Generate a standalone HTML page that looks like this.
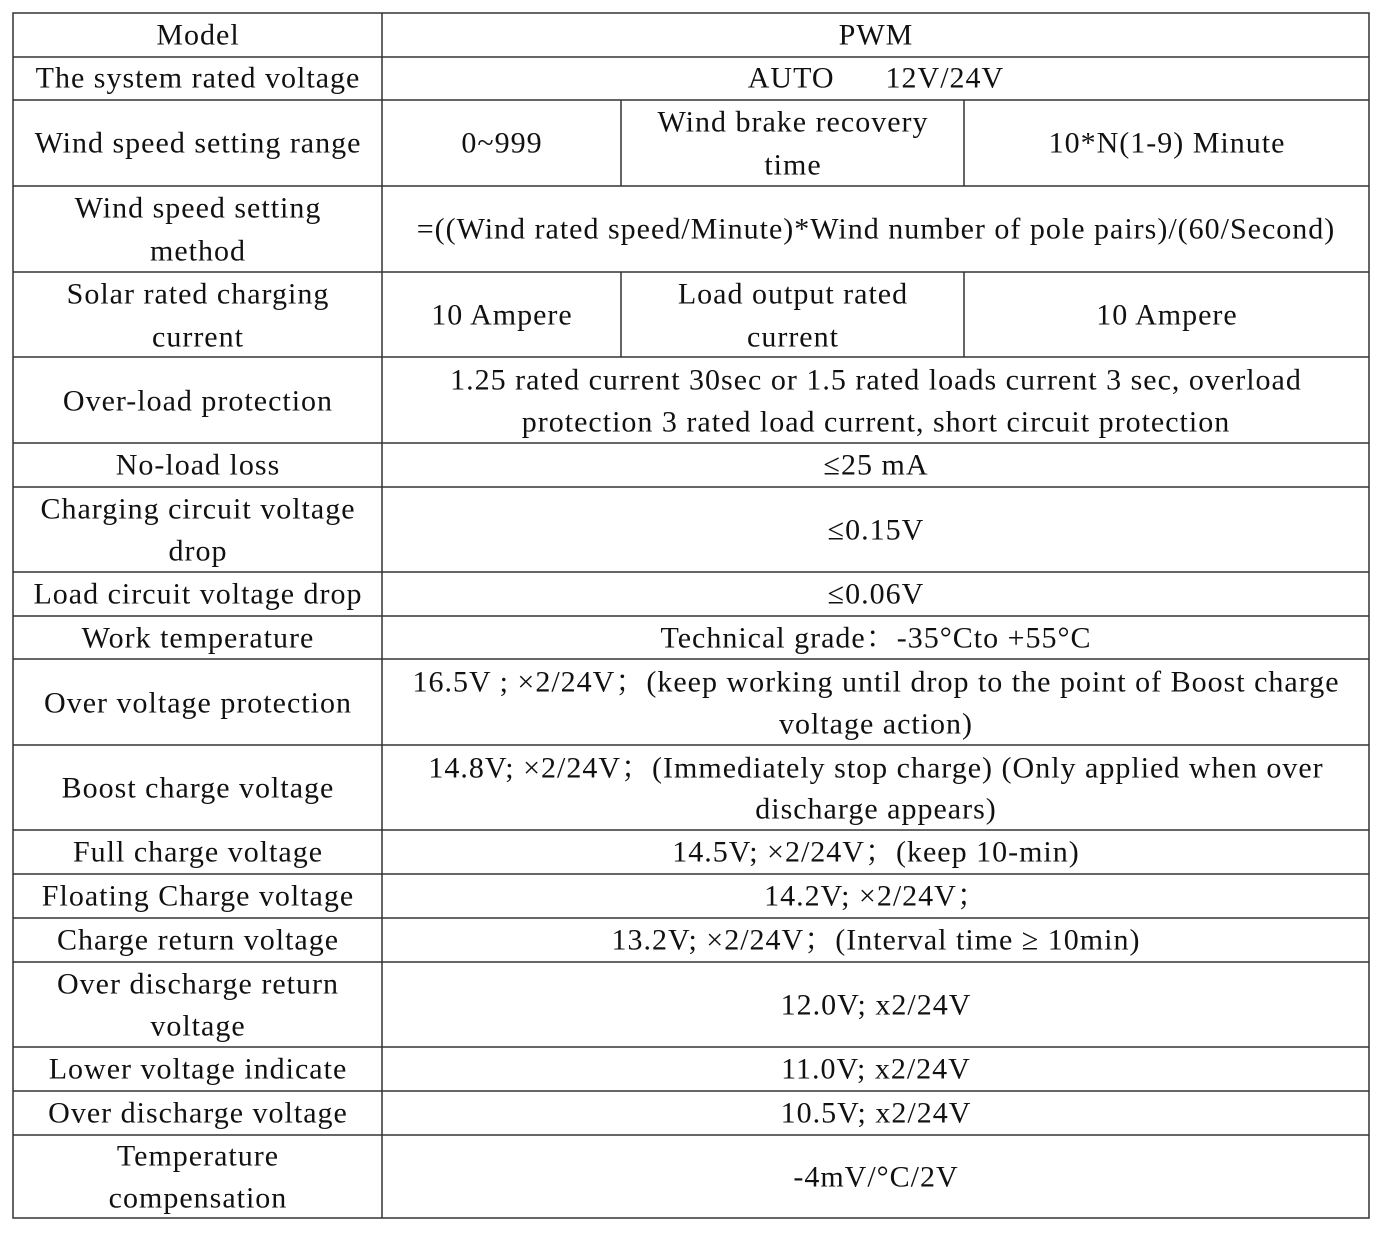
<!DOCTYPE html>
<html><head><meta charset="utf-8"><style>
html,body{margin:0;padding:0;background:#fff;}
svg text{font-family:"Liberation Serif","Noto Serif CJK SC",serif;font-size:30px;letter-spacing:1px;fill:#111;}
</style></head><body>
<svg width="1376" height="1228" xmlns="http://www.w3.org/2000/svg" text-anchor="middle" dominant-baseline="central">
<g stroke="#333" stroke-width="1.5" fill="none">
<rect x="13" y="13" width="1356" height="1205"/>
<line x1="382" y1="13" x2="382" y2="1218"/>
<line x1="621" y1="100" x2="621" y2="186"/><line x1="964" y1="100" x2="964" y2="186"/>
<line x1="621" y1="272" x2="621" y2="357"/><line x1="964" y1="272" x2="964" y2="357"/>
<line x1="13" y1="57" x2="1369" y2="57"/>
<line x1="13" y1="100" x2="1369" y2="100"/>
<line x1="13" y1="186" x2="1369" y2="186"/>
<line x1="13" y1="272" x2="1369" y2="272"/>
<line x1="13" y1="357" x2="1369" y2="357"/>
<line x1="13" y1="443" x2="1369" y2="443"/>
<line x1="13" y1="487" x2="1369" y2="487"/>
<line x1="13" y1="572" x2="1369" y2="572"/>
<line x1="13" y1="616" x2="1369" y2="616"/>
<line x1="13" y1="659" x2="1369" y2="659"/>
<line x1="13" y1="745" x2="1369" y2="745"/>
<line x1="13" y1="830" x2="1369" y2="830"/>
<line x1="13" y1="874" x2="1369" y2="874"/>
<line x1="13" y1="918" x2="1369" y2="918"/>
<line x1="13" y1="962" x2="1369" y2="962"/>
<line x1="13" y1="1047" x2="1369" y2="1047"/>
<line x1="13" y1="1091" x2="1369" y2="1091"/>
<line x1="13" y1="1135" x2="1369" y2="1135"/>
</g>
<text x="198" y="35">Model</text><text x="876" y="35">PWM</text>
<text x="198" y="78">The system rated voltage</text><text x="876" y="78" xml:space="preserve">AUTO      12V/24V</text>
<text x="198" y="143">Wind speed setting range</text><text x="502" y="143">0~999</text>
<text x="793" y="122">Wind brake recovery</text><text x="793" y="165">time</text>
<text x="1167" y="143">10*N(1-9) Minute</text>
<text x="198" y="208">Wind speed setting</text><text x="198" y="251">method</text>
<text x="876" y="229">=((Wind rated speed/Minute)*Wind number of pole pairs)/(60/Second)</text>
<text x="198" y="294">Solar rated charging</text><text x="198" y="337">current</text>
<text x="502" y="315">10 Ampere</text>
<text x="793" y="294">Load output rated</text><text x="793" y="337">current</text>
<text x="1167" y="315">10 Ampere</text>
<text x="198" y="401">Over-load protection</text>
<text x="876" y="380">1.25 rated current 30sec or 1.5 rated loads current 3 sec, overload</text>
<text x="876" y="422">protection 3 rated load current, short circuit protection</text>
<text x="198" y="465">No-load loss</text><text x="876" y="465">≤25 mA</text>
<text x="198" y="509">Charging circuit voltage</text><text x="198" y="551">drop</text>
<text x="876" y="530">≤0.15V</text>
<text x="198" y="594">Load circuit voltage drop</text><text x="876" y="594">≤0.06V</text>
<text x="198" y="638">Work temperature</text><text x="876" y="638">Technical grade：-35°Cto +55°C</text>
<text x="198" y="703">Over voltage protection</text>
<text x="876" y="682">16.5V ; ×2/24V；(keep working until drop to the point of Boost charge</text>
<text x="876" y="724">voltage action)</text>
<text x="198" y="788">Boost charge voltage</text>
<text x="876" y="768">14.8V; ×2/24V；(Immediately stop charge) (Only applied when over</text>
<text x="876" y="809">discharge appears)</text>
<text x="198" y="852">Full charge voltage</text><text x="876" y="852">14.5V; ×2/24V；(keep 10-min)</text>
<text x="198" y="896">Floating Charge voltage</text><text x="876" y="896">14.2V; ×2/24V；</text>
<text x="198" y="940">Charge return voltage</text><text x="876" y="940">13.2V; ×2/24V；(Interval time ≥ 10min)</text>
<text x="198" y="984">Over discharge return</text><text x="198" y="1026">voltage</text>
<text x="876" y="1005">12.0V; x2/24V</text>
<text x="198" y="1069">Lower voltage indicate</text><text x="876" y="1069">11.0V; x2/24V</text>
<text x="198" y="1113">Over discharge voltage</text><text x="876" y="1113">10.5V; x2/24V</text>
<text x="198" y="1156">Temperature</text><text x="198" y="1198">compensation</text>
<text x="876" y="1177">-4mV/°C/2V</text>
</svg>
</body></html>
